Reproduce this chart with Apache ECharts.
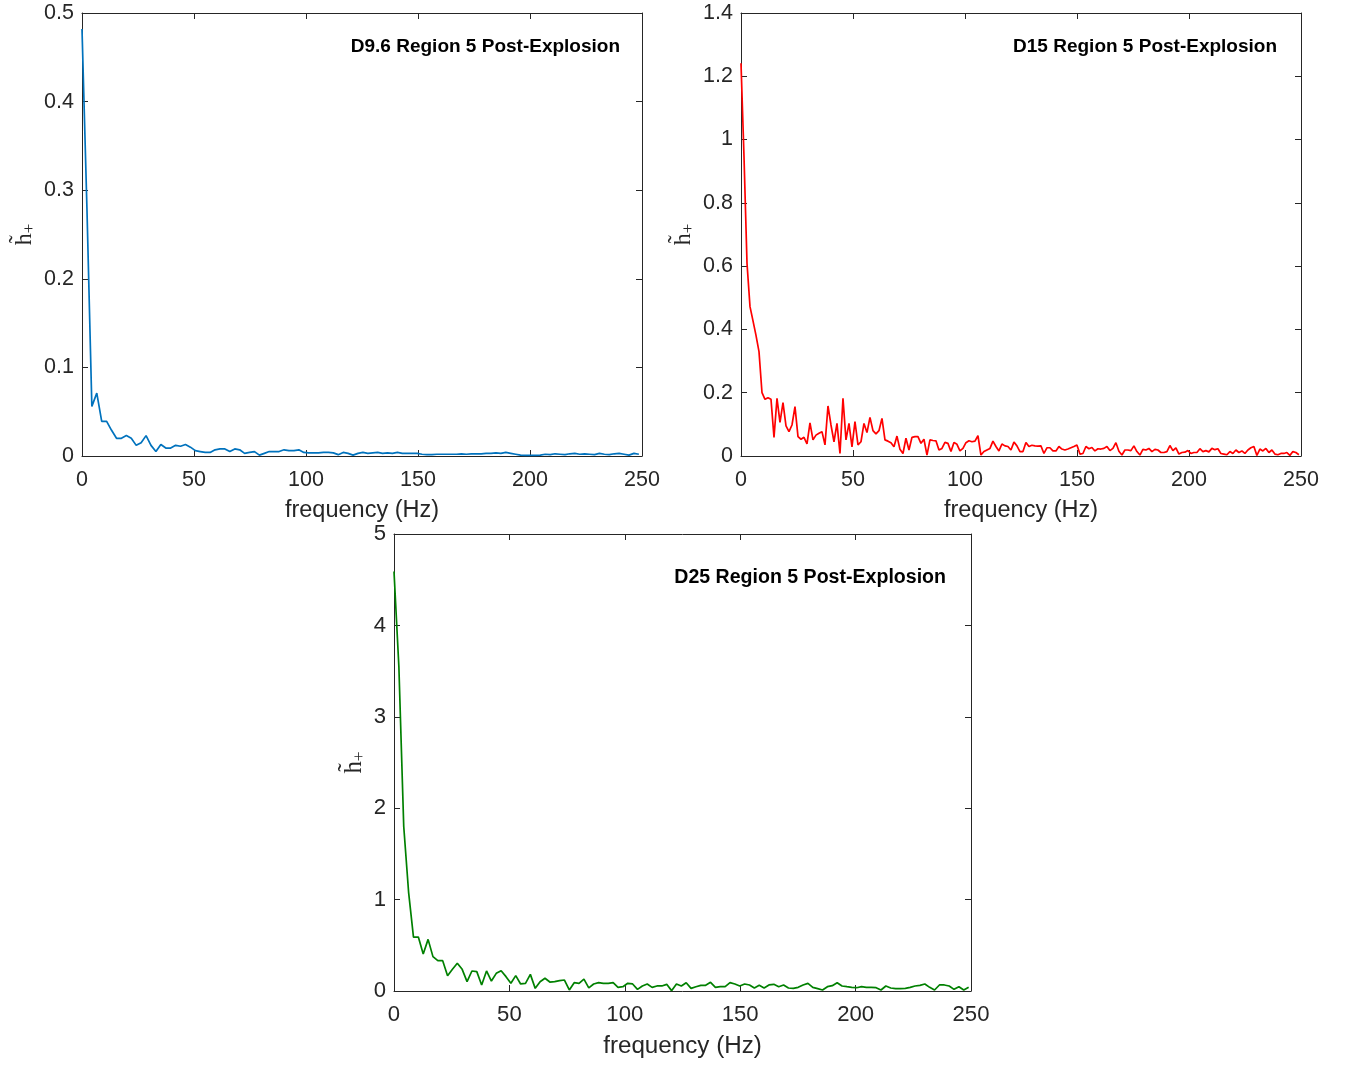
<!DOCTYPE html>
<html>
<head>
<meta charset="utf-8">
<script src="https://cdn.jsdelivr.net/npm/echarts@6/dist/echarts.min.js"></script>
<style>
html,body{margin:0;padding:0;background:#fff;}
#chart{width:1348px;height:1067px;}
</style>
</head>
<body>
<div id="chart"></div>
<script>
// ---- Data ----
const xTicks = [0, 50, 100, 150, 200, 250];
const titles = ['D9.6 Region 5 Post-Explosion', 'D15 Region 5 Post-Explosion', 'D25 Region 5 Post-Explosion'];
const xLabel = 'frequency (Hz)';

// frequency bin widths (Hz) of each spectrum
const d96FreqStep = 2.2;
const d15FreqStep = 1.339;
const d25FreqStep = 2.11;

const d96Values = [
  0.482, 0.28, 0.056, 0.071, 0.039, 0.039, 0.029, 0.020, 0.020, 0.023,
  0.020, 0.012, 0.015, 0.023, 0.012, 0.005, 0.013, 0.009, 0.009, 0.012,
  0.011, 0.013, 0.010, 0.006, 0.005, 0.004, 0.004, 0.007, 0.008, 0.008,
  0.005, 0.008, 0.007, 0.003, 0.004, 0.005, 0.001, 0.003, 0.005, 0.005,
  0.005, 0.007, 0.006, 0.006, 0.007, 0.004, 0.0035, 0.0035, 0.0035, 0.004,
  0.004, 0.0035, 0.0015, 0.004, 0.003, 0.001, 0.003, 0.004, 0.003, 0.0035,
  0.004, 0.003, 0.0035, 0.003, 0.004, 0.003, 0.003, 0.003, 0.003, 0.002,
  0.0015, 0.0015, 0.002, 0.002, 0.002, 0.002, 0.002, 0.0025, 0.002, 0.0025,
  0.0025, 0.0025, 0.003, 0.003, 0.0035, 0.003, 0.004, 0.003, 0.002, 0.001,
  0.0008, 0.0008, 0.0008, 0.001, 0.002, 0.0015, 0.0025, 0.002, 0.0015, 0.0025,
  0.003, 0.002, 0.0025, 0.002, 0.0015, 0.003, 0.002, 0.0015, 0.0025, 0.003,
  0.002, 0.001, 0.003, 0.002
];

const d15Values = [
  1.241, 0.946, 0.609, 0.472, 0.427, 0.381, 0.330, 0.200, 0.179, 0.184,
  0.179, 0.059, 0.182, 0.106, 0.169, 0.095, 0.077, 0.098, 0.156, 0.061,
  0.053, 0.059, 0.038, 0.105, 0.051, 0.066, 0.072, 0.077, 0.035, 0.158,
  0.098, 0.045, 0.103, 0.008, 0.182, 0.051, 0.103, 0.029, 0.109, 0.035,
  0.045, 0.103, 0.074, 0.122, 0.080, 0.070, 0.080, 0.119, 0.051, 0.047,
  0.042, 0.029, 0.063, 0.021, 0.008, 0.056, 0.019, 0.059, 0.061, 0.061,
  0.040, 0.053, 0.003, 0.051, 0.049, 0.048, 0.019, 0.024, 0.043, 0.040,
  0.014, 0.043, 0.037, 0.016, 0.024, 0.042, 0.048, 0.045, 0.047, 0.064,
  0.003, 0.014, 0.019, 0.024, 0.047, 0.030, 0.016, 0.038, 0.032, 0.030,
  0.019, 0.044, 0.032, 0.014, 0.014, 0.043, 0.030, 0.034, 0.032, 0.031,
  0.032, 0.008, 0.026, 0.026, 0.016, 0.016, 0.030, 0.022, 0.019, 0.022,
  0.026, 0.030, 0.035, 0.006, 0.008, 0.030, 0.023, 0.027, 0.016, 0.023,
  0.022, 0.024, 0.030, 0.017, 0.024, 0.042, 0.015, 0.003, 0.019, 0.019,
  0.017, 0.032, 0.014, 0.003, 0.021, 0.019, 0.024, 0.014, 0.021, 0.019,
  0.011, 0.011, 0.014, 0.033, 0.017, 0.026, 0.006, 0.011, 0.012, 0.017,
  0.008, 0.011, 0.011, 0.023, 0.014, 0.017, 0.013, 0.024, 0.020, 0.023,
  0.008, 0.006, 0.004, 0.014, 0.008, 0.019, 0.011, 0.016, 0.008, 0.019,
  0.026, 0.030, 0.002, 0.022, 0.016, 0.024, 0.011, 0.019, 0.006, 0.004,
  0.008, 0.008, 0.011, 0.002, 0.014, 0.011, 0.004
];

const d25Values = [
  4.59, 3.55, 1.80, 1.08, 0.59, 0.59, 0.405, 0.565, 0.376, 0.332,
  0.332, 0.168, 0.237, 0.303, 0.237, 0.102, 0.219, 0.212, 0.066, 0.219,
  0.109, 0.193, 0.222, 0.157, 0.084, 0.168, 0.077, 0.084, 0.182, 0.029,
  0.102, 0.139, 0.098, 0.102, 0.113, 0.120, 0.011, 0.091, 0.084, 0.130,
  0.035, 0.077, 0.091, 0.084, 0.084, 0.091, 0.040, 0.047, 0.084, 0.077,
  0.018, 0.055, 0.077, 0.040, 0.055, 0.055, 0.073, 0.004, 0.077, 0.055,
  0.091, 0.029, 0.047, 0.062, 0.062, 0.095, 0.040, 0.047, 0.047, 0.091,
  0.077, 0.055, 0.077, 0.066, 0.033, 0.062, 0.033, 0.066, 0.073, 0.047,
  0.066, 0.033, 0.029, 0.040, 0.066, 0.084, 0.040, 0.026, 0.011, 0.047,
  0.058, 0.091, 0.055, 0.047, 0.040, 0.036, 0.047, 0.040, 0.040, 0.036,
  0.011, 0.055, 0.033, 0.026, 0.026, 0.029, 0.040, 0.055, 0.062, 0.077,
  0.040, 0.011, 0.066, 0.066, 0.055, 0.018, 0.047, 0.011, 0.040
];

// ---- Build chart ----
const axisColor = '#262626';
const tickFont = 'Liberation Sans, Arial, Helvetica, sans-serif';

function pairs(step, vals) {
  return vals.map((v, i) => [i * step, v]);
}

const panels = [
  {grid: {left: 82, top: 13, width: 560, height: 443}, yMax: 0.5, yInt: 0.1, color: '#0072BD',
   data: pairs(d96FreqStep, d96Values), title: titles[0], titleRight: 728, titleTop: 37.5, yNameGap: 44, scale: 1},
  {grid: {left: 741, top: 13, width: 560, height: 443}, yMax: 1.4, yInt: 0.2, color: '#FF0000',
   data: pairs(d15FreqStep, d15Values), title: titles[1], titleRight: 71, titleTop: 37.5, yNameGap: 44, scale: 1},
  {grid: {left: 394, top: 534, width: 577, height: 457}, yMax: 5, yInt: 1, color: '#008000',
   data: pairs(d25FreqStep, d25Values), title: titles[2], titleRight: 402, titleTop: 568, yNameGap: 26, scale: 1.03}
];

const option = {
  animation: false,
  backgroundColor: '#ffffff',
  title: [], grid: [], xAxis: [], yAxis: [], series: []
};

const lineSty = {show: true, onZero: false, lineStyle: {color: axisColor, width: 1}};
const tickSty = {show: true, inside: true, length: 6, lineStyle: {color: axisColor, width: 1}};

panels.forEach((p, k) => {
  const s = p.scale;
  option.title.push({
    text: p.title, right: p.titleRight, top: p.titleTop, padding: 0,
    textStyle: {fontFamily: tickFont, fontSize: 19 * s, fontWeight: 'bold', color: '#000'}
  });
  option.grid.push(Object.assign({containLabel: false}, p.grid));
  // bottom x
  option.xAxis.push({
    type: 'value', gridIndex: k, min: 0, max: 250, interval: 50, position: 'bottom',
    axisLine: lineSty, axisTick: tickSty, splitLine: {show: false},
    axisLabel: {fontFamily: tickFont, fontSize: 21.5 * s, color: axisColor, margin: 13},
    name: xLabel, nameLocation: 'middle', nameGap: 43,
    nameTextStyle: {fontFamily: tickFont, fontSize: 23.5 * s, color: axisColor}
  });
  // top x (box)
  option.xAxis.push({
    type: 'value', gridIndex: k, min: 0, max: 250, interval: 50, position: 'top',
    axisLine: lineSty, axisTick: tickSty, splitLine: {show: false}, axisLabel: {show: false}
  });
  // left y
  option.yAxis.push({
    type: 'value', gridIndex: k, min: 0, max: p.yMax, interval: p.yInt, position: 'left',
    axisLine: lineSty, axisTick: tickSty, splitLine: {show: false},
    axisLabel: {fontFamily: tickFont, fontSize: 21.5 * s, color: axisColor, margin: 8},
    name: '{h|h\u0303}{s|+}', nameLocation: 'middle', nameRotate: 90, nameGap: p.yNameGap,
    nameTextStyle: {
      color: axisColor,
      rich: {
        h: {fontFamily: 'Liberation Serif, DejaVu Serif, serif', fontSize: 24 * s, color: axisColor},
        s: {fontFamily: 'Liberation Serif, DejaVu Serif, serif', fontSize: 17 * s, color: axisColor, padding: [10, 0, 0, 0]}
      }
    }
  });
  // right y (box)
  option.yAxis.push({
    type: 'value', gridIndex: k, min: 0, max: p.yMax, interval: p.yInt, position: 'right',
    axisLine: lineSty, axisTick: tickSty, splitLine: {show: false}, axisLabel: {show: false}
  });
  option.series.push({
    type: 'line', xAxisIndex: 2 * k, yAxisIndex: 2 * k, data: p.data,
    showSymbol: false, symbol: 'none', clip: true,
    lineStyle: {color: p.color, width: 1.7}, itemStyle: {color: p.color}
  });
});

const chart = echarts.init(document.getElementById('chart'), null, {renderer: 'canvas'});
chart.setOption(option);
</script>
</body>
</html>
